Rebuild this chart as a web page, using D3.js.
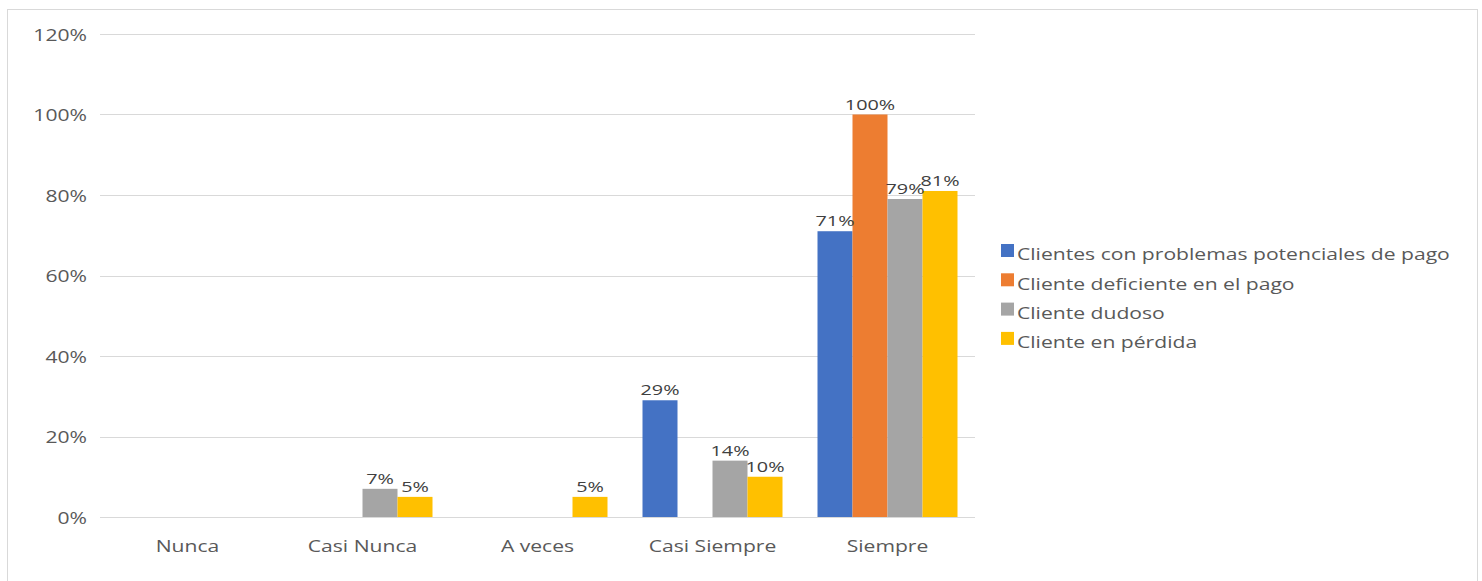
<!DOCTYPE html>
<html>
<head>
<meta charset="utf-8">
<script src="https://cdn.jsdelivr.net/npm/d3@7"></script>
<style>
  html, body { margin: 0; padding: 0; background: #fff; }
  svg { display: block; font-family: "Open Sans", "Noto Sans", sans-serif; }
</style>
</head>
<body>
<svg id="chart" width="1482" height="581"></svg>
<script>
// Response categories
const categories = ["Nunca", "Casi Nunca", "A veces", "Casi Siempre", "Siempre"];

// Series names and their values (fraction of respondents)
const seriesNames = [
  "Clientes con problemas potenciales de pago",
  "Cliente deficiente en el pago",
  "Cliente dudoso",
  "Cliente en pérdida"
];
const potenciales = [0, 0, 0, 0.29, 0.71];
const deficiente  = [0, 0, 0, 0, 1.00];
const dudoso      = [0, 0.07, 0, 0.14, 0.79];
const perdida     = [0, 0.05, 0.05, 0.10, 0.81];
const seriesValues = [potenciales, deficiente, dudoso, perdida];
const seriesColors = ["#4472C4", "#ED7D31", "#A5A5A5", "#FFC000"];

// Y axis ticks
const yTicks = [0, 0.2, 0.4, 0.6, 0.8, 1.0, 1.2];

// Text is drawn slightly widened horizontally
const SX = 1.32;

const svg = d3.select("#chart");

// Outer frame
svg.append("rect")
  .attr("x", 7.5).attr("y", 9.5)
  .attr("width", 1470).attr("height", 580)
  .attr("fill", "#fff").attr("stroke", "#D9D9D9").attr("stroke-width", 1);

const plot = { left: 100, right: 975, top: 34, bottom: 517 };

const x0 = d3.scaleBand().domain(categories)
  .range([plot.left, plot.right]).paddingInner(0).paddingOuter(0);
// each group of bars takes 80% of its category band
const x1 = d3.scaleBand().domain(d3.range(seriesNames.length))
  .range([x0.bandwidth() * 0.1, x0.bandwidth() * 0.9]).padding(0);

const y = d3.scaleLinear().domain([0, 1.2]).range([plot.bottom, plot.top]);

// helper: place a stretched text at (px, py)
function place(sel, px, py) {
  sel.attr("x", 0).attr("y", 0)
    .attr("transform", (d, i) => `translate(${px(d, i)},${py(d, i)}) scale(${SX},1)`);
}

// Gridlines
svg.append("g").selectAll("line").data(yTicks).join("line")
  .attr("x1", plot.left).attr("x2", plot.right)
  .attr("y1", d => Math.round(y(d)) + 0.5).attr("y2", d => Math.round(y(d)) + 0.5)
  .attr("stroke", "#D9D9D9").attr("stroke-width", 1);

// Y axis labels
const yAxis = d3.axisLeft(y).tickValues(yTicks)
  .tickFormat(d => Math.round(d * 100) + "%").tickSize(0);
const gy = svg.append("g").attr("transform", `translate(${plot.left},0)`).call(yAxis);
gy.select(".domain").remove();
gy.selectAll("text")
  .attr("fill", "#595959").attr("dy", null)
  .attr("dominant-baseline", "central")
  .style("font-size", "16px").style("font-family", "\"Open Sans\", sans-serif")
  .attr("x", 0).attr("transform", `translate(-13,0) scale(${SX},1)`);

// X axis labels
const xAxis = d3.axisBottom(x0).tickSize(0);
const gx = svg.append("g").attr("transform", `translate(0,${plot.bottom})`).call(xAxis);
gx.select(".domain").remove();
gx.selectAll("text")
  .attr("fill", "#595959").attr("dy", null)
  .attr("dominant-baseline", "central")
  .style("font-size", "16px").style("font-family", "\"Open Sans\", sans-serif")
  .attr("y", 0).attr("transform", `translate(0,29) scale(${SX},1)`);

// Bars
const flat = [];
categories.forEach((c, ci) => {
  seriesValues.forEach((vals, si) => {
    flat.push({ cat: c, s: si, v: vals[ci] });
  });
});
const shown = flat.filter(d => d.v > 0);

svg.append("g").selectAll("rect").data(shown).join("rect")
  .attr("x", d => x0(d.cat) + x1(d.s))
  .attr("y", d => y(d.v))
  .attr("width", x1.bandwidth())
  .attr("height", d => y(0) - y(d.v))
  .attr("fill", d => seriesColors[d.s]);

// Data labels
svg.append("g").selectAll("text").data(shown).join("text")
  .attr("text-anchor", "middle")
  .attr("fill", "#404040")
  .style("font-size", "15px")
  .text(d => Math.round(d.v * 100) + "%")
  .call(place, d => x0(d.cat) + x1(d.s) + x1.bandwidth() / 2, d => y(d.v) - 5);

// Legend
const legend = svg.append("g").attr("transform", "translate(1001,254)");
const items = legend.selectAll("g").data(seriesNames).join("g")
  .attr("transform", (d, i) => `translate(0,${i * 29.3})`);
items.append("rect")
  .attr("x", 0).attr("y", -10).attr("width", 13).attr("height", 13)
  .attr("fill", (d, i) => seriesColors[i]);
items.append("text")
  .attr("fill", "#595959").style("font-size", "16px")
  .attr("dominant-baseline", "central")
  .text(d => d)
  .call(place, () => 16, () => 0);
</script>
</body>
</html>
